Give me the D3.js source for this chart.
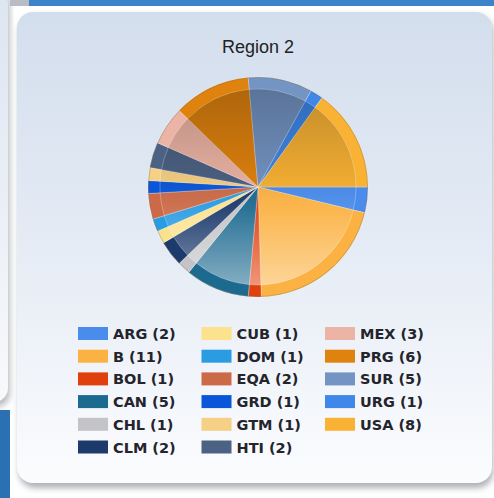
<!DOCTYPE html>
<html>
<head>
<meta charset="utf-8">
<script src="https://cdn.jsdelivr.net/npm/d3@7"></script>
<style>
  html, body { margin: 0; padding: 0; background: #ffffff; }
  svg { display: block; }
</style>
</head>
<body>
<div id="chart"></div>
<script>
// Données
const countries = ["ARG", "B", "BOL", "CAN", "CHL", "CLM", "CUB", "DOM", "EQA", "GRD", "GTM", "HTI", "MEX", "PRG", "SUR", "URG", "USA"];
const counts = [2, 11, 1, 5, 1, 2, 1, 1, 2, 1, 1, 2, 3, 6, 5, 1, 8];
const colors = ["#4a8cec", "#fbb243", "#e0400c", "#1d6a90", "#c4c4c8", "#1c3a6c",
                "#fde28e", "#2a9ce2", "#cc6a48", "#0a56d8", "#f6d084", "#4c6284",
                "#ecb4a4", "#e0820e", "#7494c4", "#3f88ea", "#f9b234"];
const title = "Region 2";

const data = countries.map((c, i) => ({ name: c, value: counts[i], color: colors[i] }));

const width = 494;
const height = 498;

const svg = d3.select("#chart").append("svg")
    .attr("width", width)
    .attr("height", height);

const defs = svg.append("defs");

const cardGrad = defs.append("linearGradient")
    .attr("id", "cardGrad").attr("x1", 0).attr("y1", 0).attr("x2", 0).attr("y2", 1);
cardGrad.append("stop").attr("offset", "0%").attr("stop-color", "#d3deed");
cardGrad.append("stop").attr("offset", "45%").attr("stop-color", "#e3eaf4");
cardGrad.append("stop").attr("offset", "100%").attr("stop-color", "#fbfcfe");

const sideGrad = defs.append("linearGradient")
    .attr("id", "sideGrad").attr("x1", 0).attr("y1", 0).attr("x2", 0).attr("y2", 1);
sideGrad.append("stop").attr("offset", "0%").attr("stop-color", "#dce5f1");
sideGrad.append("stop").attr("offset", "100%").attr("stop-color", "#f8f9fb");

const shade = defs.append("linearGradient")
    .attr("id", "shade").attr("x1", 0).attr("y1", 0).attr("x2", 0).attr("y2", 1);
shade.append("stop").attr("offset", "0%").attr("stop-color", "#000").attr("stop-opacity", 0.22);
shade.append("stop").attr("offset", "45%").attr("stop-color", "#000").attr("stop-opacity", 0.05);
shade.append("stop").attr("offset", "60%").attr("stop-color", "#fff").attr("stop-opacity", 0.05);
shade.append("stop").attr("offset", "100%").attr("stop-color", "#fff").attr("stop-opacity", 0.45);

const blur = defs.append("filter").attr("id", "blur")
    .attr("x", "-10%").attr("y", "-10%").attr("width", "120%").attr("height", "120%");
blur.append("feGaussianBlur").attr("stdDeviation", 3);

// Décor autour de la carte
svg.append("rect").attr("x", -30).attr("y", -10).attr("width", 40).attr("height", 417).attr("rx", 14)
    .attr("fill", "#8a8f96").attr("opacity", 0.6).attr("filter", "url(#blur)");
svg.append("rect").attr("x", -30).attr("y", -10).attr("width", 38).attr("height", 412).attr("rx", 14)
    .attr("fill", "url(#sideGrad)");
svg.append("rect").attr("x", 10).attr("y", 0).attr("width", 20).attr("height", 6).attr("fill", "#b8bcc4");
svg.append("rect").attr("x", 29).attr("y", 0).attr("width", width - 29).attr("height", 6).attr("fill", "#3b84ca");
svg.append("rect").attr("x", 0).attr("y", 410).attr("width", 10).attr("height", height - 410).attr("fill", "#2a70b2");

// Carte
svg.append("rect")
    .attr("x", 19).attr("y", 16).attr("width", 474).attr("height", 472).attr("rx", 16)
    .attr("fill", "#8a8f96").attr("opacity", 0.7).attr("filter", "url(#blur)");
svg.append("rect")
    .attr("x", 17).attr("y", 12).attr("width", 475).attr("height", 471).attr("rx", 16)
    .attr("fill", "url(#cardGrad)");

// Titre
svg.append("text")
    .attr("x", 258).attr("y", 53)
    .attr("text-anchor", "middle")
    .attr("font-family", "Liberation Sans, Arial, sans-serif")
    .attr("font-size", "18px")
    .attr("fill", "#222")
    .text(title);

// Camembert
const cx = 258, cy = 187, r = 110, rInner = 98;

const pie = d3.pie()
    .sort(null)
    .value(d => d.value)
    .startAngle(Math.PI / 2)
    .endAngle(Math.PI / 2 + 2 * Math.PI);

const arcs = pie(data);
const outerArc = d3.arc().innerRadius(0).outerRadius(r);
const innerArc = d3.arc().innerRadius(0).outerRadius(rInner);

const g = svg.append("g").attr("transform", `translate(${cx},${cy})`);

g.selectAll("path.rim")
    .data(arcs)
    .join("path")
    .attr("class", "rim")
    .attr("d", outerArc)
    .attr("fill", d => d.data.color)
    .attr("stroke", "rgba(255,255,255,0.35)")
    .attr("stroke-width", 0.8);

g.selectAll("path.face")
    .data(arcs)
    .join("path")
    .attr("class", "face")
    .attr("d", innerArc)
    .attr("fill", d => d.data.color)
    .attr("stroke", "rgba(255,255,255,0.35)")
    .attr("stroke-width", 0.8);

g.append("circle")
    .attr("r", rInner)
    .attr("fill", "url(#shade)");

g.append("circle")
    .attr("r", r - 0.5)
    .attr("fill", "none")
    .attr("stroke", "rgba(120,100,60,0.35)")
    .attr("stroke-width", 1);

// Légende
const rowsPerCol = 6;
const legend = svg.append("g");
const items = legend.selectAll("g")
    .data(data)
    .join("g")
    .attr("transform", (d, i) => `translate(${78 + Math.floor(i / rowsPerCol) * 123.5},${327 + (i % rowsPerCol) * 22.7})`);

items.append("rect")
    .attr("width", 30).attr("height", 13)
    .attr("fill", d => d.color);

items.append("text")
    .attr("x", 35).attr("y", 12)
    .attr("font-family", "DejaVu Sans, Verdana, sans-serif")
    .attr("font-size", "14.5px")
    .attr("font-weight", "bold")
    .attr("fill", "#24242c")
    .text(d => `${d.name} (${d.value})`);
</script>
</body>
</html>
